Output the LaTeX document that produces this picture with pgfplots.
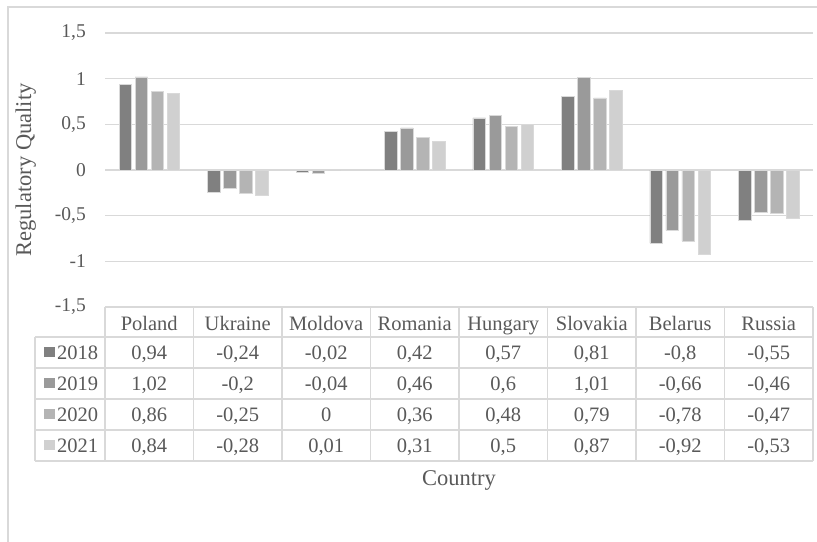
\documentclass[border=0pt]{standalone}
\usepackage{pgfplots}
\pgfplotsset{compat=1.18}
\usepackage{fontspec}
\setmainfont{Liberation Serif}
\definecolor{txt}{HTML}{595959}
\definecolor{gridc}{HTML}{D9D9D9}
\definecolor{cA}{HTML}{808080}
\definecolor{cB}{HTML}{9A9A9A}
\definecolor{cC}{HTML}{B4B4B4}
\definecolor{cD}{HTML}{D0D0D0}
\begin{document}
\begin{tikzpicture}
\path[use as bounding box] (0,0) rectangle (817bp,-542bp);
\begin{axis}[
  at={(105bp,-307bp)}, anchor=south west,
  scale only axis, width=708bp, height=274bp,
  xmin=-0.5, xmax=7.5, ymin=-1.5, ymax=1.5,
  ybar=3.5bp, bar width=12.5bp,
  axis line style={draw=none},
  ytick={-1.5,-1,-0.5,0,0.5,1,1.5},
  yticklabels={{-1,5},{-1},{-0,5},{0},{0,5},{1},{1,5}},
  ymajorgrids, grid style={gridc, line width=1.5bp},
  major tick length=0pt,
  xtick={0,...,7},
  xticklabels={Poland,Ukraine,Moldova,Romania,Hungary,Slovakia,Belarus,Russia},
  xticklabel style={anchor=base, yshift=-23bp, inner sep=0pt, font=\fontsize{20.5bp}{24bp}\selectfont, text=txt},
  yticklabel style={anchor=east, inner sep=0pt, xshift=-19bp, font=\fontsize{19.5bp}{23bp}\selectfont, text=txt},
  clip=false,
]
\addplot[fill=cA, draw=gridc, line width=0.6bp] coordinates {(0,0.94) (1,-0.24) (2,-0.02) (3,0.42) (4,0.57) (5,0.81) (6,-0.8) (7,-0.55)};
\addplot[fill=cB, draw=gridc, line width=0.6bp] coordinates {(0,1.02) (1,-0.2) (2,-0.04) (3,0.46) (4,0.6) (5,1.01) (6,-0.66) (7,-0.46)};
\addplot[fill=cC, draw=gridc, line width=0.6bp] coordinates {(0,0.86) (1,-0.25) (2,0) (3,0.36) (4,0.48) (5,0.79) (6,-0.78) (7,-0.47)};
\addplot[fill=cD, draw=gridc, line width=0.6bp] coordinates {(0,0.84) (1,-0.28) (2,0.01) (3,0.31) (4,0.5) (5,0.87) (6,-0.92) (7,-0.53)};
\end{axis}
\begin{scope}[x=1bp,y=-1bp]
\draw[gridc, line width=1.5bp] (8,542) -- (8,7) -- (817,7);
% data table grid
\draw[gridc, line width=1.5bp] (105,307) -- (813,307);
\foreach \y in {337,368,399,430,461} \draw[gridc, line width=1.5bp] (35,\y) -- (813,\y);
\foreach \x in {105,193.5,282,370.5,459,547.5,636,724.5,813} \draw[gridc, line width=1.5bp] (\x,307) -- (\x,461);
\draw[gridc, line width=1.5bp] (35,337) -- (35,461);
\tikzset{tbl/.style={anchor=base, inner sep=0pt, text=txt, font=\fontsize{20.5bp}{24bp}\selectfont}}
\foreach \v [count=\i from 0] in {{0,94},{-0,24},{-0,02},{0,42},{0,57},{0,81},{-0,8},{-0,55}}
  \node[tbl] at ({149.25+88.5*\i},359) {\v};
\foreach \v [count=\i from 0] in {{1,02},{-0,2},{-0,04},{0,46},{0,6},{1,01},{-0,66},{-0,46}}
  \node[tbl] at ({149.25+88.5*\i},390) {\v};
\foreach \v [count=\i from 0] in {{0,86},{-0,25},{0},{0,36},{0,48},{0,79},{-0,78},{-0,47}}
  \node[tbl] at ({149.25+88.5*\i},421) {\v};
\foreach \v [count=\i from 0] in {{0,84},{-0,28},{0,01},{0,31},{0,5},{0,87},{-0,92},{-0,53}}
  \node[tbl] at ({149.25+88.5*\i},452) {\v};
% legend keys
\fill[cA] (43.5,346.5) rectangle (54.5,357);
\fill[cB] (43.5,377.5) rectangle (54.5,388);
\fill[cC] (43.5,408.5) rectangle (54.5,419);
\fill[cD] (43.5,439.5) rectangle (54.5,450);
\node[tbl, anchor=base west] at (57,359) {2018};
\node[tbl, anchor=base west] at (57,390) {2019};
\node[tbl, anchor=base west] at (57,421) {2020};
\node[tbl, anchor=base west] at (57,452) {2021};
% titles
\node[rotate=90, anchor=base, inner sep=0pt, text=txt, font=\fontsize{22.5bp}{26bp}\selectfont] at (31,170) {Regulatory Quality};
\node[anchor=base, inner sep=0pt, text=txt, font=\fontsize{22.5bp}{26bp}\selectfont] at (459,485) {Country};
\end{scope}
\end{tikzpicture}
\end{document}
